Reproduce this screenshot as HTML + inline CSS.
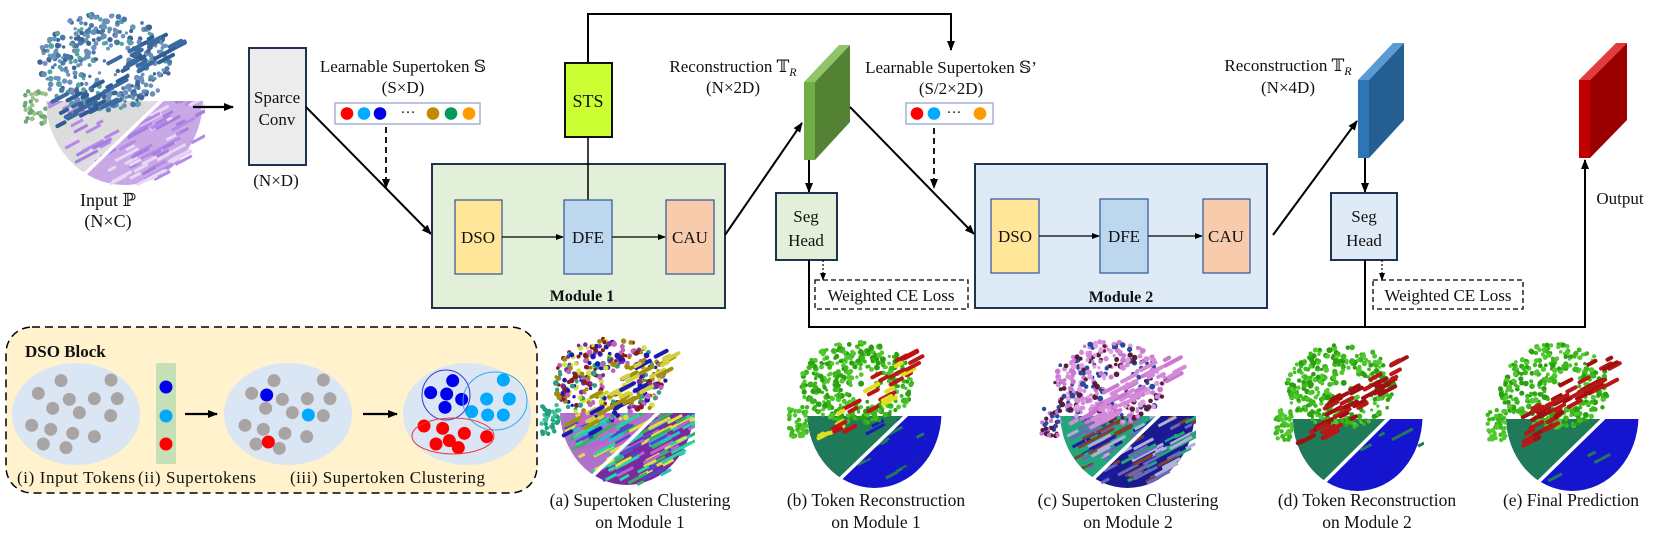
<!DOCTYPE html>
<html><head><meta charset="utf-8">
<style>
html,body{margin:0;padding:0;background:#fff;}
svg{display:block;font-family:"Liberation Serif","DejaVu Serif",serif;}
svg text{font-family:"Liberation Serif","DejaVu Serif",serif;fill:#111;}
</style></head>
<body>
<svg id="s" width="1661" height="537" viewBox="0 0 1661 537" xmlns="http://www.w3.org/2000/svg" font-family="Liberation Serif, DejaVu Serif, serif">
<defs>
<marker id="ar" markerWidth="10" markerHeight="10" refX="9" refY="5" orient="auto" markerUnits="userSpaceOnUse">
<path d="M0,1 L10,5 L0,9 z" fill="#000"/></marker>
<marker id="ars" markerWidth="8" markerHeight="8" refX="7" refY="4" orient="auto" markerUnits="userSpaceOnUse">
<path d="M0,1 L8,4 L0,7 z" fill="#000"/></marker>
</defs>
<g id="clouds"></g>

<text x="108" y="206" font-size="18" text-anchor="middle">Input ℙ</text>
<text x="108" y="227" font-size="18" text-anchor="middle">(N×C)</text>
<line x1="193" y1="107" x2="233" y2="107" stroke="#000" stroke-width="2.2" marker-end="url(#ar)"/>

<rect x="249" y="48" width="57" height="117" fill="#ececec" stroke="#1f3350" stroke-width="2"/>
<text x="277" y="103" font-size="17" text-anchor="middle">Sparce</text>
<text x="277" y="125" font-size="17" text-anchor="middle">Conv</text>
<text x="276" y="186" font-size="17" text-anchor="middle">(N×D)</text>

<text x="403" y="72" font-size="17" text-anchor="middle">Learnable Supertoken 𝕊</text>
<text x="403" y="93" font-size="17" text-anchor="middle">(S×D)</text>
<rect x="335" y="103" width="145" height="21" fill="#fff" stroke="#8ea0c8" stroke-width="1.2"/>
<circle cx="347" cy="113.5" r="6.3" fill="#f00"/><circle cx="364" cy="113.5" r="6.3" fill="#0af"/><circle cx="380" cy="113.5" r="6.3" fill="#00e"/>
<text x="408" y="117" font-size="15" text-anchor="middle">···</text>
<circle cx="433" cy="113.5" r="6.3" fill="#bf8a00"/><circle cx="451" cy="113.5" r="6.3" fill="#009a5a"/><circle cx="469" cy="113.5" r="6.3" fill="#f90"/>
<line x1="386" y1="127" x2="386" y2="188" stroke="#000" stroke-width="1.8" stroke-dasharray="6,4" marker-end="url(#ar)"/>
<line x1="306" y1="107" x2="431" y2="234" stroke="#000" stroke-width="2" marker-end="url(#ar)"/>

<polyline points="588,63 588,14 951,14 951,50" fill="none" stroke="#000" stroke-width="2" marker-end="url(#ar)"/>
<rect x="565" y="63" width="47" height="74" fill="#ccff33" stroke="#111" stroke-width="2"/>
<text x="588" y="107" font-size="18" text-anchor="middle">STS</text>

<rect x="432" y="164" width="293" height="144" fill="#e2efd9" stroke="#1f3350" stroke-width="2"/>
<line x1="588" y1="137" x2="588" y2="200" stroke="#000" stroke-width="1.5"/>
<rect x="455" y="200" width="47" height="74" fill="#ffe699" stroke="#2f5597" stroke-width="1.2"/>
<rect x="564" y="200" width="48" height="74" fill="#bdd7ee" stroke="#2f5597" stroke-width="1.2"/>
<rect x="666" y="200" width="48" height="74" fill="#f8cbad" stroke="#2f5597" stroke-width="1.2"/>
<text x="478" y="243" font-size="17" text-anchor="middle">DSO</text>
<text x="588" y="243" font-size="17" text-anchor="middle">DFE</text>
<text x="690" y="243" font-size="17" text-anchor="middle">CAU</text>
<line x1="502" y1="237" x2="563" y2="237" stroke="#000" stroke-width="1.2" marker-end="url(#ars)"/>
<line x1="612" y1="237" x2="665" y2="237" stroke="#000" stroke-width="1.2" marker-end="url(#ars)"/>
<text x="582" y="301" font-size="16" font-weight="bold" text-anchor="middle">Module 1</text>

<polygon points="804,82 839,45 850,45 815,82" fill="#8fc46a"/>
<polygon points="815,82 850,45 850,122 815,160" fill="#548235"/>
<rect x="804" y="82" width="11" height="78" fill="#70ad47"/>
<text x="733" y="72" font-size="17" text-anchor="middle">Reconstruction 𝕋<tspan font-style="italic" font-size="12" dy="4">R</tspan></text>
<text x="733" y="93" font-size="17" text-anchor="middle">(N×2D)</text>
<line x1="725" y1="235" x2="802" y2="123" stroke="#000" stroke-width="2" marker-end="url(#ar)"/>
<line x1="809" y1="160" x2="809" y2="192" stroke="#000" stroke-width="2" marker-end="url(#ar)"/>
<rect x="776" y="193" width="61" height="67" fill="#e2efd9" stroke="#1f3350" stroke-width="2"/>
<text x="806" y="222" font-size="17" text-anchor="middle">Seg</text>
<text x="806" y="246" font-size="17" text-anchor="middle">Head</text>
<line x1="823" y1="260" x2="823" y2="280" stroke="#000" stroke-width="1.2" stroke-dasharray="2,2" marker-end="url(#ars)"/>
<rect x="815" y="280" width="153" height="29" fill="#fff" stroke="#000" stroke-width="1.3" stroke-dasharray="5,3"/>
<text x="891" y="301" font-size="17" text-anchor="middle">Weighted CE Loss</text>

<text x="951" y="73" font-size="17" text-anchor="middle">Learnable Supertoken 𝕊’</text>
<text x="951" y="94" font-size="17" text-anchor="middle">(S/2×2D)</text>
<rect x="906" y="103" width="87" height="21" fill="#fff" stroke="#8ea0c8" stroke-width="1.2"/>
<circle cx="917" cy="113.5" r="6.3" fill="#f00"/><circle cx="934" cy="113.5" r="6.3" fill="#0af"/>
<text x="954" y="117" font-size="15" text-anchor="middle">···</text>
<circle cx="980" cy="113.5" r="6.3" fill="#f90"/>
<line x1="934" y1="128" x2="934" y2="188" stroke="#000" stroke-width="1.8" stroke-dasharray="6,4" marker-end="url(#ar)"/>
<line x1="850" y1="107" x2="974" y2="234" stroke="#000" stroke-width="2" marker-end="url(#ar)"/>

<rect x="975" y="164" width="292" height="144" fill="#deebf7" stroke="#1f3350" stroke-width="2"/>
<rect x="991" y="199" width="48" height="74" fill="#ffe699" stroke="#2f5597" stroke-width="1.2"/>
<rect x="1100" y="199" width="48" height="74" fill="#bdd7ee" stroke="#2f5597" stroke-width="1.2"/>
<rect x="1203" y="199" width="47" height="74" fill="#f8cbad" stroke="#2f5597" stroke-width="1.2"/>
<text x="1015" y="242" font-size="17" text-anchor="middle">DSO</text>
<text x="1124" y="242" font-size="17" text-anchor="middle">DFE</text>
<text x="1226" y="242" font-size="17" text-anchor="middle">CAU</text>
<line x1="1039" y1="236" x2="1099" y2="236" stroke="#000" stroke-width="1.2" marker-end="url(#ars)"/>
<line x1="1148" y1="236" x2="1202" y2="236" stroke="#000" stroke-width="1.2" marker-end="url(#ars)"/>
<text x="1121" y="302" font-size="16" font-weight="bold" text-anchor="middle">Module 2</text>

<polygon points="1358,80 1393,43 1404,43 1369,80" fill="#5b9bd5"/>
<polygon points="1369,80 1404,43 1404,120 1369,158" fill="#255e91"/>
<rect x="1358" y="80" width="11" height="78" fill="#2e75b6"/>
<text x="1288" y="71" font-size="17" text-anchor="middle">Reconstruction 𝕋<tspan font-style="italic" font-size="12" dy="4">R</tspan></text>
<text x="1288" y="93" font-size="17" text-anchor="middle">(N×4D)</text>
<line x1="1273" y1="235" x2="1357" y2="121" stroke="#000" stroke-width="2" marker-end="url(#ar)"/>
<line x1="1365" y1="158" x2="1365" y2="192" stroke="#000" stroke-width="2" marker-end="url(#ar)"/>
<rect x="1331" y="193" width="66" height="67" fill="#deebf7" stroke="#1f3350" stroke-width="2"/>
<text x="1364" y="222" font-size="17" text-anchor="middle">Seg</text>
<text x="1364" y="246" font-size="17" text-anchor="middle">Head</text>
<line x1="1382" y1="260" x2="1382" y2="280" stroke="#000" stroke-width="1.2" stroke-dasharray="2,2" marker-end="url(#ars)"/>
<rect x="1373" y="280" width="150" height="29" fill="#fff" stroke="#000" stroke-width="1.3" stroke-dasharray="5,3"/>
<text x="1448" y="301" font-size="17" text-anchor="middle">Weighted CE Loss</text>

<polygon points="1579,80 1616,43 1627,43 1590,80" fill="#e03c3c"/>
<polygon points="1590,80 1627,43 1627,120 1590,158" fill="#9b0000"/>
<rect x="1579" y="80" width="11" height="78" fill="#c00000"/>
<text x="1620" y="204" font-size="17" text-anchor="middle">Output</text>

<polyline points="809,260 809,327 1585,327 1585,160" fill="none" stroke="#000" stroke-width="2" marker-end="url(#ar)"/>
<line x1="1365" y1="260" x2="1365" y2="327" stroke="#000" stroke-width="2"/>

<rect x="6" y="327" width="531" height="166" rx="26" ry="26" fill="#fff2cc" stroke="#000" stroke-width="1.5" stroke-dasharray="8,5"/>
<text x="25" y="357" font-size="17" font-weight="bold">DSO Block</text>
<ellipse cx="76" cy="414" rx="64" ry="51" fill="#dae6f3"/>
<rect x="156" y="363" width="20" height="101" rx="2" fill="#c5e0b4"/>
<circle cx="166" cy="387" r="6.5" fill="#00e"/><circle cx="166" cy="416" r="6.5" fill="#0af"/><circle cx="166" cy="444" r="6.5" fill="#f00"/>
<line x1="185" y1="414" x2="217" y2="414" stroke="#000" stroke-width="2.2" marker-end="url(#ar)"/>
<ellipse cx="288" cy="414" rx="64" ry="51" fill="#dae6f3"/>
<line x1="363" y1="414" x2="397" y2="414" stroke="#000" stroke-width="2.2" marker-end="url(#ar)"/>
<ellipse cx="467" cy="414" rx="64" ry="51" fill="#dae6f3"/>
<g id="dots"></g>
<ellipse cx="446" cy="395" rx="24" ry="25" fill="none" stroke="#3333dd" stroke-width="1"/>
<ellipse cx="495" cy="401" rx="32" ry="29" fill="none" stroke="#33aaee" stroke-width="1"/>
<ellipse cx="453" cy="436" rx="41" ry="18" fill="none" stroke="#e33" stroke-width="1"/>
<text x="17" y="483" font-size="17" textLength="118">(i) Input Tokens</text>
<text x="138" y="483" font-size="17" textLength="118">(ii) Supertokens</text>
<text x="290" y="483" font-size="17" textLength="195">(iii) Supertoken Clustering</text>

<text x="640" y="506" font-size="17.5" text-anchor="middle">(a) Supertoken Clustering</text>
<text x="640" y="528" font-size="17.5" text-anchor="middle">on Module 1</text>
<text x="876" y="506" font-size="17.5" text-anchor="middle">(b) Token Reconstruction</text>
<text x="876" y="528" font-size="17.5" text-anchor="middle">on Module 1</text>
<text x="1128" y="506" font-size="17.5" text-anchor="middle">(c) Supertoken Clustering</text>
<text x="1128" y="528" font-size="17.5" text-anchor="middle">on Module 2</text>
<text x="1367" y="506" font-size="17.5" text-anchor="middle">(d) Token Reconstruction</text>
<text x="1367" y="528" font-size="17.5" text-anchor="middle">on Module 2</text>
<text x="1571" y="506" font-size="17.5" text-anchor="middle">(e) Final Prediction</text>
</svg>
<script>
(function(){
var NS="http://www.w3.org/2000/svg";
function el(p,n,a){var e=document.createElementNS(NS,n);for(var k in a)e.setAttribute(k,a[k]);p.appendChild(e);return e;}
var dots=document.getElementById("dots");
var g1=[[183,182],[333,180],[115,220],[208,238],[283,236],[352,236],[158,265],[238,278],[332,287],[95,316],[152,328],[218,340],[283,350],[130,372],[198,383]];
g1.forEach(function(p){el(dots,"circle",{cx:p[0]/3,cy:p[1]/3+320,r:6.5,fill:"#aaa5a5"});});
var g2=[[822,182],[970,180],[755,220],[847,238],[922,236],[990,236],[797,265],[877,278],[970,287],[735,316],[790,328],[855,340],[920,350],[768,372],[838,385]];
g2.forEach(function(p){el(dots,"circle",{cx:p[0]/3,cy:p[1]/3+320,r:6.5,fill:"#aaa5a5"});});
el(dots,"circle",{cx:800/3,cy:225/3+320,r:6.5,fill:"#00e"});
el(dots,"circle",{cx:925/3,cy:285/3+320,r:6.5,fill:"#0af"});
el(dots,"circle",{cx:805/3,cy:366/3+320,r:6.5,fill:"#f00"});
[[158,182],[92,218],[140,222],[185,238],[135,262]].forEach(function(p){el(dots,"circle",{cx:p[0]/3+400,cy:p[1]/3+320,r:6.5,fill:"#00e"});});
[[310,180],[260,237],[328,237],[215,275],[263,285],[310,285]].forEach(function(p){el(dots,"circle",{cx:p[0]/3+400,cy:p[1]/3+320,r:6.5,fill:"#0af"});});
[[72,318],[128,325],[193,340],[260,350],[108,372],[148,362],[175,383]].forEach(function(p){el(dots,"circle",{cx:p[0]/3+400,cy:p[1]/3+320,r:6.5,fill:"#f00"});});

var seed=7;function rnd(){seed|=0;seed=seed+0x6D2B79F5|0;var t=Math.imul(seed^seed>>>15,1|seed);t=t+Math.imul(t^t>>>7,61|t)^t;return((t^t>>>14)>>>0)/4294967296;}
function pick(a){return a[Math.floor(rnd()*a.length)];}
var C=document.getElementById("clouds");var cid=0;
function cloud(x0,y0,w,h,o){
 cid++;var g=el(C,"g",{});
 var cp=el(g,"clipPath",{id:"cp"+cid});
 el(cp,"rect",{x:x0,y:y0+0.52*h,width:w,height:0.5*h});
 var cx=x0+0.56*w,cy=y0+0.5*h,rx=0.43*w,ry=0.5*h;
 var cpl=el(g,"clipPath",{id:"cl"+cid});
 var gx1=x0+0.28*w,gy1=y0+1.0*h,gx2=x0+0.78*w,gy2=y0+0.5*h;
 el(cpl,"polygon",{points:x0+","+(y0+0.5*h)+" "+gx2+","+gy2+" "+gx1+","+gy1+" "+x0+","+(y0+h)});
 var base=el(g,"g",{"clip-path":"url(#cp"+cid+")"});
 el(base,"ellipse",{cx:cx,cy:cy,rx:rx,ry:ry,fill:o.R});
 var lg=el(base,"g",{"clip-path":"url(#cl"+cid+")"});
 el(lg,"ellipse",{cx:cx,cy:cy,rx:rx,ry:ry,fill:o.L});
 if(o.tex){for(var i=0;i<o.texN;i++){var px=cx+(rnd()*2-1)*rx,py=y0+0.52*h+rnd()*0.48*h;
  var dx=(px-cx)/rx,dy=(py-cy)/ry;if(dx*dx+dy*dy>1)continue;
  var L=6+rnd()*22;el(base,"rect",{x:px,y:py,width:L,height:3,fill:pick(o.tex),transform:"rotate(-28 "+px+" "+py+")"});}}
 el(base,"line",{x1:gx1,y1:gy1,x2:gx2,y2:gy2,stroke:"#fff","stroke-width":3.5});
 for(var i=0;i<o.blobN;i++){
  var a=rnd()*Math.PI*2,r=Math.sqrt(rnd());
  var bx=x0+0.45*w+Math.cos(a)*r*0.36*w,by=y0+0.3*h+Math.sin(a)*r*0.28*h;
  var ix=(bx-(x0+0.52*w))/(0.12*w),iy=(by-(y0+0.33*h))/(0.12*h);if(ix*ix+iy*iy<1&&rnd()<0.85)continue;
  el(g,"circle",{cx:bx,cy:by,r:1.6+rnd()*1.4,fill:pick(o.blob)});
 }
 for(var i=0;i<o.leftN;i++){el(g,"circle",{cx:x0+0.07*w+(rnd()*2-1)*0.06*w,cy:y0+0.56*h+(rnd()*2-1)*0.1*h,r:2.2,fill:pick(o.left)});}
 for(var i=0;i<o.barN;i++){var t=rnd();var bx=x0+(0.2+t*0.6)*w+(rnd()-0.5)*0.15*w,by=y0+(0.62-t*0.45)*h+(rnd()-0.5)*0.18*h;
  el(g,"rect",{x:bx,y:by,width:8+rnd()*14,height:4,rx:2,fill:pick(o.bar),transform:"rotate(-28 "+bx+" "+by+")"});}
}
cloud(22,10,183,175,{L:"#dcdcdc",R:"#c9a8e6",tex:["#a77ee0","#e8d8f5","#b48ae8"],texN:120,blob:["#3f6496","#4b78a8","#56a3a3","#7090c0","#6a8fb0"],blobN:420,left:["#9fc088","#6aa878"],leftN:40,bar:["#3a6aa0","#2f5d94"],barN:45});
cloud(540,335,155,150,{L:"#b072c8",R:"#7a2aa0",tex:["#2bd4a0","#28c0c8","#4a4ac8","#c060d0","#e0e040","#38b060"],texN:200,blob:["#8b1a1a","#a08a10","#1a1ab0","#c060c0","#d0e040","#2aa080","#7a2aa0"],blobN:380,left:["#20a080","#40c090"],leftN:40,bar:["#a09010","#1a1ab0","#d0d040"],barN:40});
cloud(787,338,156,150,{L:"#1f7a5a",R:"#1515d0",tex:["#1f7a5a","#1a1ab8"],texN:25,blob:["#3cb81c","#52c830","#2aa010"],blobN:420,left:["#3cb81c","#52c830"],leftN:50,bar:["#c01010","#b81818","#e0e020"],barN:30});
cloud(1040,338,156,150,{L:"#20a878",R:"#1a1a90",tex:["#6a6ab8","#b0b0d8","#20a878","#804030","#1a1ab0"],texN:160,blob:["#d48ad8","#c878d0","#e0a0e0","#2a4aa0","#5a1a3a"],blobN:400,left:["#2a4aa0","#5a1a3a","#c878d0"],leftN:40,bar:["#d48ad8","#c878d0"],barN:40});
cloud(1273,341,151,150,{L:"#1f7a5a",R:"#1515d0",tex:["#1f7a5a"],texN:10,blob:["#3cb81c","#52c830","#2aa010"],blobN:380,left:["#3cb81c","#52c830"],leftN:50,bar:["#a01010","#b81818"],barN:45});
cloud(1486,341,154,150,{L:"#1f7a5a",R:"#1515d0",tex:["#1f7a5a"],texN:10,blob:["#3cb81c","#52c830","#2aa010"],blobN:380,left:["#3cb81c","#52c830"],leftN:50,bar:["#a01010","#b81818"],barN:45});
})();
</script>
</body></html>
